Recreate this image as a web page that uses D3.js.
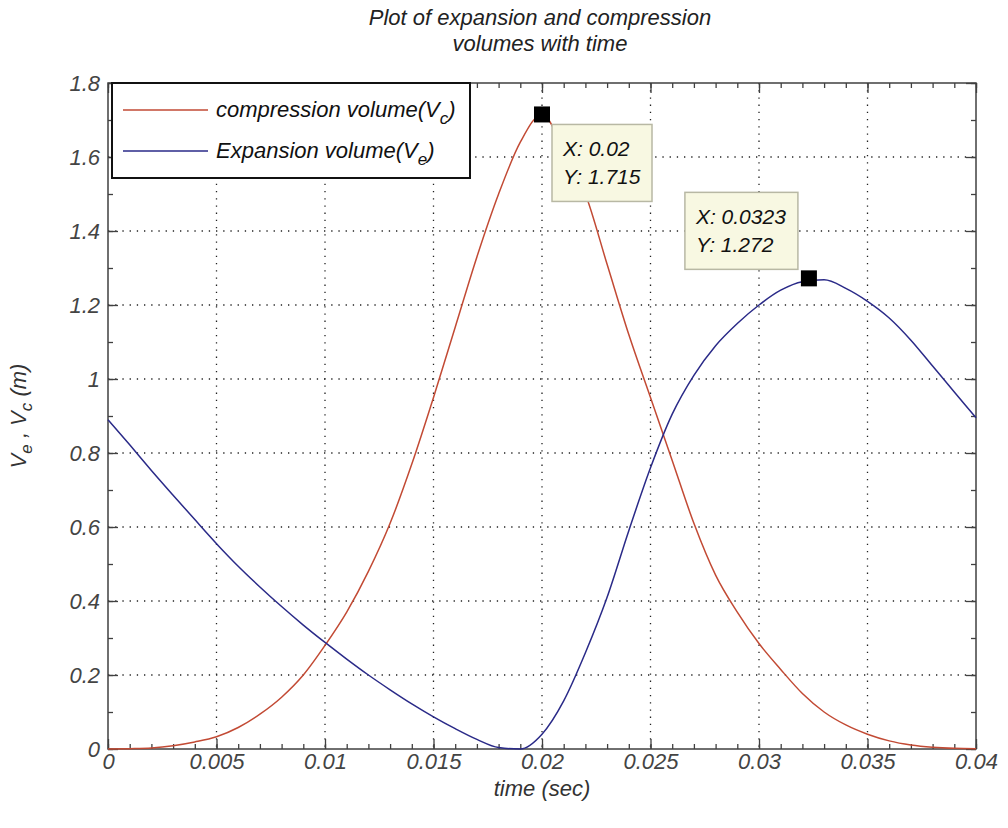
<!DOCTYPE html>
<html>
<head>
<meta charset="utf-8">
<script src="https://cdn.jsdelivr.net/npm/d3@7"></script>
<style>
  body { margin: 0; background: #fff; }
  text { font-family: "Liberation Sans", Arial, sans-serif; font-style: italic; }
</style>
</head>
<body>
<div class="canvas"></div>
<script>
// time (s) and the two volume curves
const time = [0, 0.001, 0.002, 0.003, 0.004, 0.005, 0.006, 0.007, 0.008, 0.009, 0.010,
  0.011, 0.012, 0.013, 0.014, 0.015, 0.016, 0.017, 0.018, 0.019, 0.020,
  0.021, 0.022, 0.023, 0.024, 0.025, 0.026, 0.027, 0.028, 0.029, 0.030,
  0.031, 0.032, 0.033, 0.034, 0.035, 0.036, 0.037, 0.038, 0.039, 0.040];
const compVol = [0, 0.001, 0.003, 0.009, 0.019, 0.033, 0.058, 0.094, 0.14, 0.2, 0.28,
  0.37, 0.48, 0.61, 0.77, 0.95, 1.14, 1.33, 1.5, 1.64, 1.715,
  1.62, 1.5, 1.31, 1.12, 0.95, 0.78, 0.61, 0.47, 0.37, 0.285,
  0.215, 0.15, 0.1, 0.065, 0.04, 0.022, 0.011, 0.005, 0.002, 0.001];
const expVol = [0.89, 0.822, 0.753, 0.686, 0.62, 0.555, 0.494, 0.438, 0.385, 0.335, 0.288,
  0.243, 0.2, 0.16, 0.122, 0.087, 0.055, 0.026, 0.004, 0, 0.04,
  0.13, 0.26, 0.41, 0.59, 0.76, 0.905, 1.01, 1.09, 1.15, 1.2,
  1.24, 1.263, 1.268, 1.245, 1.21, 1.165, 1.105, 1.035, 0.965, 0.895];
const xTicks = [0, 0.005, 0.01, 0.015, 0.02, 0.025, 0.03, 0.035, 0.04];
const yTicks = [0, 0.2, 0.4, 0.6, 0.8, 1, 1.2, 1.4, 1.6, 1.8];
const tips = [{ x: 0.02, y: 1.715 }, { x: 0.0323, y: 1.272 }];

let dim = { left: 108, top: 83, width: 868, height: 666 };
let svg = d3.select(".canvas").append("svg").attr("width", 1008).attr("height", 828);
let graph = svg.append("g").attr("transform", `translate(${dim.left},${dim.top})`);

const x = d3.scaleLinear().domain([0, 0.04]).range([0, dim.width]);
const y = d3.scaleLinear().domain([0, 1.8]).range([dim.height, 0]);

// dotted grid
graph.selectAll(".gx").data(xTicks.slice(1, -1)).enter().append("line")
  .attr("x1", d => x(d)).attr("x2", d => x(d)).attr("y1", 0).attr("y2", dim.height)
  .attr("stroke", "#222").attr("stroke-width", 1.3).attr("stroke-dasharray", "1.3,5.9");
graph.selectAll(".gy").data(yTicks.slice(1, -1)).enter().append("line")
  .attr("y1", d => y(d)).attr("y2", d => y(d)).attr("x1", 0).attr("x2", dim.width)
  .attr("stroke", "#222").attr("stroke-width", 1.3).attr("stroke-dasharray", "1.3,5.9");

// axes with inward ticks on all four sides
const fmt = d => String(+d.toFixed(4));
const xMinor = d3.range(0, 41).map(i => i / 1000);
const yMinor = d3.range(0, 19).map(i => i / 10);
const tickStyle = g => g.call(s => s.select(".domain").remove())
  .selectAll("line").attr("stroke", "#404040").attr("stroke-width", 1.3);

graph.append("g").attr("transform", `translate(0,${dim.height})`)
  .call(d3.axisBottom(x).tickValues(xMinor).tickSize(-5).tickFormat(""))
  .call(tickStyle);
graph.append("g")
  .call(d3.axisTop(x).tickValues(xMinor).tickSize(-5).tickFormat(""))
  .call(tickStyle);
graph.append("g")
  .call(d3.axisLeft(y).tickValues(yMinor).tickSize(-5).tickFormat(""))
  .call(tickStyle);
graph.append("g").attr("transform", `translate(${dim.width},0)`)
  .call(d3.axisRight(y).tickValues(yMinor).tickSize(-5).tickFormat(""))
  .call(tickStyle);

const xb = graph.append("g").attr("transform", `translate(0,${dim.height})`)
  .call(d3.axisBottom(x).tickValues(xTicks).tickSize(-10).tickPadding(4).tickFormat(fmt))
  .call(tickStyle);
graph.append("g")
  .call(d3.axisTop(x).tickValues(xTicks).tickSize(-10).tickFormat(""))
  .call(tickStyle);
const yl = graph.append("g")
  .call(d3.axisLeft(y).tickValues(yTicks).tickSize(-10).tickPadding(8).tickFormat(fmt))
  .call(tickStyle);
graph.append("g").attr("transform", `translate(${dim.width},0)`)
  .call(d3.axisRight(y).tickValues(yTicks).tickSize(-10).tickFormat(""))
  .call(tickStyle);
[xb, yl].forEach(g => g.selectAll("text")
  .attr("font-size", 22).attr("font-family", "Liberation Sans, Arial").attr("font-style", "italic")
  .attr("fill", "#444"));

graph.append("rect").attr("width", dim.width).attr("height", dim.height)
  .attr("fill", "none").attr("stroke", "#404040").attr("stroke-width", 1.5);

// curves
const line = vals => d3.line().x((d, i) => x(time[i])).y(d => y(d)).curve(d3.curveMonotoneX)(vals);
graph.append("path").attr("d", line(compVol)).attr("fill", "none")
  .attr("stroke", "#c24a34").attr("stroke-width", 1.5);
graph.append("path").attr("d", line(expVol)).attr("fill", "none")
  .attr("stroke", "#2a2a88").attr("stroke-width", 1.5);

// legend
const leg = graph.append("g").attr("transform", "translate(4,0)");
leg.append("rect").attr("width", 358).attr("height", 95)
  .attr("fill", "#fff").attr("stroke", "#111").attr("stroke-width", 2);
const legItems = [
  { name: "compression volume(V", sub: "c", color: "#c24a34", yy: 27 },
  { name: "Expansion volume(V", sub: "e", color: "#2a2a88", yy: 68 }
];
legItems.forEach(it => {
  leg.append("line").attr("x1", 11).attr("x2", 96).attr("y1", it.yy).attr("y2", it.yy)
    .attr("stroke", it.color).attr("stroke-width", 1.5);
  const t = leg.append("text").attr("x", 104).attr("y", it.yy + 7).attr("font-size", 22).attr("fill", "#111");
  t.append("tspan").text(it.name);
  t.append("tspan").attr("dy", 7).attr("font-size", 17).text(it.sub);
  t.append("tspan").attr("dy", -7).text(")");
});

// data tips
const boxes = [
  { dx: 10, dy: 10, w: 100, h: 77 },
  { dx: -124, dy: -86, w: 113, h: 77 }
];
tips.forEach((p, i) => {
  const b = boxes[i];
  const bx = x(p.x) + b.dx, by = y(p.y) + b.dy;
  graph.append("rect").attr("x", bx).attr("y", by).attr("width", b.w).attr("height", b.h)
    .attr("fill", "#f8f8e2").attr("stroke", "#b8b8a4").attr("stroke-width", 1.5);
  graph.append("text").attr("x", bx + 11).attr("y", by + 32).attr("font-size", 21).attr("fill", "#111")
    .text("X: " + p.x);
  graph.append("text").attr("x", bx + 11).attr("y", by + 60).attr("font-size", 21).attr("fill", "#111")
    .text("Y: " + p.y);
  graph.append("rect").attr("x", x(p.x) - 8).attr("y", y(p.y) - 8).attr("width", 16).attr("height", 16)
    .attr("fill", "#000");
});

// titles
svg.append("text").attr("x", 540).attr("y", 25).attr("text-anchor", "middle").attr("font-size", 22)
  .attr("fill", "#222").text("Plot of expansion and compression");
svg.append("text").attr("x", 540).attr("y", 51).attr("text-anchor", "middle").attr("font-size", 22)
  .attr("fill", "#222").text("volumes with time");
svg.append("text").attr("x", 542).attr("y", 796).attr("text-anchor", "middle").attr("font-size", 22)
  .attr("fill", "#333").text("time (sec)");
const yt = svg.append("text").attr("transform", "translate(26,416) rotate(-90)")
  .attr("text-anchor", "middle").attr("font-size", 22).attr("fill", "#333");
yt.append("tspan").text("V");
yt.append("tspan").attr("dy", 6).attr("font-size", 17).text("e");
yt.append("tspan").attr("dy", -6).text(" , V");
yt.append("tspan").attr("dy", 6).attr("font-size", 17).text("c");
yt.append("tspan").attr("dy", -6).text(" (m)");
</script>
</body>
</html>
